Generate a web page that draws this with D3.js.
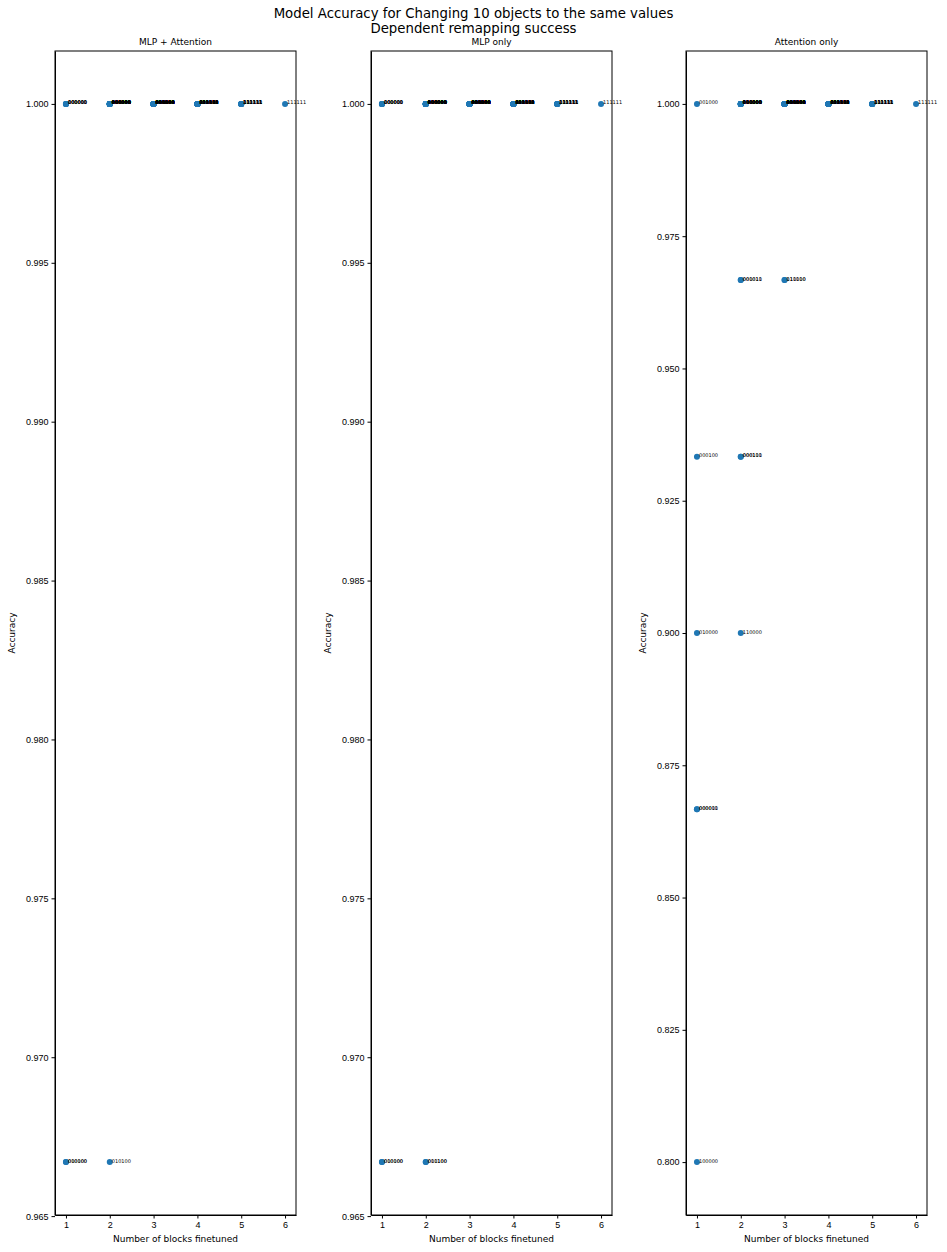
<!DOCTYPE html>
<html>
<head>
<meta charset="utf-8">
<script src="https://cdn.jsdelivr.net/npm/d3@7"></script>
<style>
  body { margin: 0; background: #fff; }
  svg { display: block; font-family: "DejaVu Sans", sans-serif; }
  .axis path, .axis line { stroke: #000; }
  .axis text { font-size: 9px; fill: #000; }
</style>
</head>
<body>
<svg id="chart" width="947" height="1252"></svg>
<script>
// x categories: number of blocks finetuned
var blockCounts = [1, 2, 3, 4, 5, 6];

// which blocks were finetuned, grouped by count
var combos1 = ["100000","010000","001000","000100","000010","000001"];
var combos2 = ["110000","101000","100100","100010","100001","011000","010100","010010","010001",
               "001100","001010","001001","000110","000101","000011"];
var combos3 = ["111000","110100","110010","110001","101100","101010","101001","100110","100101","100011",
               "011100","011010","011001","010110","010101","010011","001110","001101","001011","000111"];
var combos4 = ["111100","111010","111001","110110","110101","110011","101110","101101","101011","100111",
               "011110","011101","011011","010111","001111"];
var combos5 = ["111110","111101","111011","110111","101111","011111"];
var combos6 = ["111111"];

// accuracy per combo, same order as combos1..combos6
var accMlpAttn = [
  1, 0.9667, 1, 0.9667, 1, 1,
  1, 1, 1, 1, 1, 1, 0.9667, 1, 1, 1, 1, 1, 1, 1, 1,
  1, 1, 1, 1, 1, 1, 1, 1, 1, 1, 1, 1, 1, 1, 1, 1, 1, 1, 1, 1,
  1, 1, 1, 1, 1, 1, 1, 1, 1, 1, 1, 1, 1, 1, 1,
  1, 1, 1, 1, 1, 1,
  1
];
var accMlp = [
  1, 0.9667, 1, 0.9667, 1, 1,
  1, 1, 1, 1, 1, 1, 0.9667, 1, 1, 0.9667, 1, 1, 1, 1, 1,
  1, 1, 1, 1, 1, 1, 1, 1, 1, 1, 1, 1, 1, 1, 1, 1, 1, 1, 1, 1,
  1, 1, 1, 1, 1, 1, 1, 1, 1, 1, 1, 1, 1, 1, 1,
  1, 1, 1, 1, 1, 1,
  1
];
var accAttn = [
  0.8, 0.9, 1, 0.9333, 0.8667, 0.8667,
  0.9, 1, 1, 1, 1, 1, 1, 1, 1, 1, 0.9667, 1, 0.9333, 0.9333, 0.9667,
  1, 0.9667, 1, 1, 1, 1, 1, 1, 1, 1, 1, 0.9667, 1, 1, 1, 1, 1, 1, 1, 1,
  1, 1, 1, 1, 1, 1, 1, 1, 1, 1, 1, 1, 1, 1, 1,
  1, 1, 1, 1, 1, 1,
  1
];

var panelTitles = ["MLP + Attention", "MLP only", "Attention only"];
var yTicksA = [0.965, 0.970, 0.975, 0.980, 0.985, 0.990, 0.995, 1.000];
var yTicksB = [0.800, 0.825, 0.850, 0.875, 0.900, 0.925, 0.950, 0.975, 1.000];

var titleLines = ["Model Accuracy for Changing 10 objects to the same values", "Dependent remapping success"];

var svg = d3.select("#chart");

var groups = [combos1, combos2, combos3, combos4, combos5, combos6];
var labels = [], counts = [];
groups.forEach(function(g, i) {
  g.forEach(function(c) { labels.push(c); counts.push(blockCounts[i]); });
});

var panels = [
  {title: panelTitles[0], acc: accMlpAttn, ticks: yTicksA, left: 55},
  {title: panelTitles[1], acc: accMlp, ticks: yTicksA, left: 371},
  {title: panelTitles[2], acc: accAttn, ticks: yTicksB, left: 686}
];

var plotTop = 51, plotBottom = 1215, pw = 241;
var ph = plotBottom - plotTop;

svg.selectAll(".suptitle")
  .data(titleLines)
  .enter().append("text")
    .attr("class", "suptitle")
    .attr("x", 473.5)
    .attr("y", function(d, i) { return 18 + i * 15; })
    .attr("text-anchor", "middle")
    .style("font-size", "13.3px")
    .text(function(d) { return d; });

panels.forEach(function(p) {
  var pts = labels.map(function(l, i) { return {label: l, x: counts[i], y: p.acc[i]}; });
  var ymin = d3.min(pts, function(d) { return d.y; }), ymax = d3.max(pts, function(d) { return d.y; });
  var pad = (ymax - ymin) * 0.05;

  var x = d3.scaleLinear().domain([0.75, 6.25]).range([0, pw]);
  var y = d3.scaleLinear().domain([ymin - pad, ymax + pad]).range([ph, 0]);

  var g = svg.append("g").attr("transform", "translate(" + p.left + "," + plotTop + ")");

  g.append("g")
      .attr("class", "axis")
      .attr("transform", "translate(0," + ph + ")")
      .call(d3.axisBottom(x).tickValues(blockCounts).tickFormat(d3.format("d")).tickSize(3.5).tickSizeOuter(0));

  g.append("g")
      .attr("class", "axis")
      .call(d3.axisLeft(y).tickValues(p.ticks).tickFormat(d3.format(".3f")).tickSize(3.5).tickSizeOuter(0));

  g.append("rect")
      .attr("width", pw)
      .attr("height", ph)
      .attr("fill", "none")
      .attr("stroke", "#000")
      .attr("stroke-width", 1);

  g.append("text")
      .attr("x", pw / 2)
      .attr("y", -6)
      .attr("text-anchor", "middle")
      .style("font-size", "9px")
      .text(p.title);

  g.append("text")
      .attr("x", pw / 2)
      .attr("y", ph + 27)
      .attr("text-anchor", "middle")
      .style("font-size", "9px")
      .text("Number of blocks finetuned");

  g.append("text")
      .attr("transform", "translate(-40," + (ph / 2) + ") rotate(-90)")
      .attr("text-anchor", "middle")
      .style("font-size", "9px")
      .text("Accuracy");

  g.selectAll(".dot")
    .data(pts)
    .enter().append("circle")
      .attr("class", "dot")
      .attr("cx", function(d) { return x(d.x); })
      .attr("cy", function(d) { return y(d.y); })
      .attr("r", 3)
      .attr("fill", "#1f77b4");

  g.selectAll(".lbl")
    .data(pts)
    .enter().append("text")
      .attr("class", "lbl")
      .attr("x", function(d) { return x(d.x) + 2; })
      .attr("y", function(d) { return y(d.y) + 0.5; })
      .style("font-size", "5px")
      .text(function(d) { return d.label; });
});
</script>
</body>
</html>
